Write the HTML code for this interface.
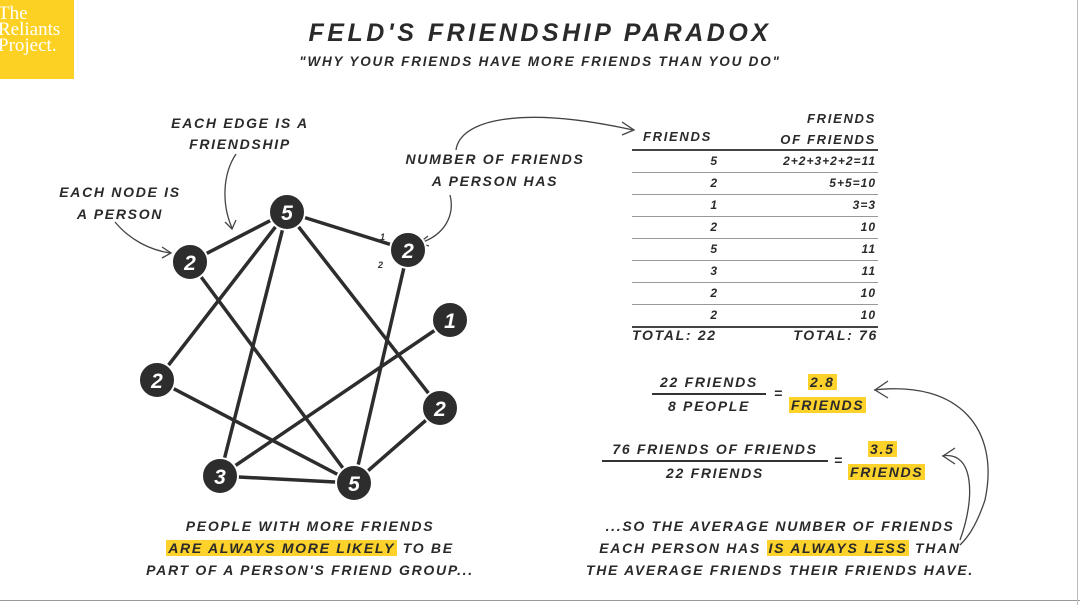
<!DOCTYPE html>
<html><head><meta charset="utf-8"><style>
*{margin:0;padding:0}
body{width:1080px;height:605px;background:#fff;position:relative;overflow:hidden;font-family:"Liberation Sans",sans-serif;color:#2a2a2a}
.t{position:absolute;font-weight:bold;font-style:italic;font-size:14px;letter-spacing:1.7px;white-space:nowrap;text-transform:uppercase}
.c{text-align:center}
.r{text-align:right}
.hl{background:#fdd22a;padding:0 2px}
.row{position:absolute;left:632px;width:246px;height:21px;border-bottom:1px solid #999}
.row span{position:absolute;top:3px;font-weight:bold;font-style:italic;font-size:12px;letter-spacing:1px}
</style></head><body>
<div style="position:absolute;left:0;top:0;width:74px;height:79px;background:#fdd123"></div>
<div style="position:absolute;left:-2px;top:6px;color:#fff;font-family:'Liberation Serif',serif;font-size:19px;line-height:16px">The<br>Reliants<br>Project.</div>
<div style="position:absolute;left:0;top:600px;width:1080px;height:1px;background:#999"></div>
<div style="position:absolute;left:1077px;top:0;width:1px;height:605px;background:#bbb"></div>

<div class="t c" style="left:270px;top:19px;width:540px;font-size:25px;letter-spacing:3.5px">Feld's Friendship Paradox</div>
<div class="t c" style="left:240px;top:54px;width:600px;font-size:13.5px;letter-spacing:1.8px">"Why your friends have more friends than you do"</div>

<div class="t c" style="left:140px;top:113px;width:200px;line-height:21px">Each edge is a<br>friendship</div>
<div class="t c" style="left:45px;top:181px;width:150px;line-height:22px">Each node is<br>a person</div>
<div class="t c" style="left:385px;top:148px;width:220px;line-height:22px">Number of friends<br>a person has</div>

<svg style="position:absolute;left:0;top:0" width="1080" height="605">
<g stroke="#2d2d2d" stroke-width="3.5" fill="none">
<line x1="190" y1="262" x2="287" y2="212"/>
<line x1="287" y1="212" x2="408" y2="250"/>
<line x1="287" y1="212" x2="157" y2="380"/>
<line x1="287" y1="212" x2="220" y2="476"/>
<line x1="287" y1="212" x2="440" y2="408"/>
<line x1="190" y1="262" x2="354" y2="483"/>
<line x1="408" y1="250" x2="354" y2="483"/>
<line x1="450" y1="320" x2="220" y2="476"/>
<line x1="157" y1="380" x2="354" y2="483"/>
<line x1="220" y1="476" x2="354" y2="483"/>
<line x1="440" y1="408" x2="354" y2="483"/>
</g>
<g stroke="#444" stroke-width="1.3" fill="none">
<path d="M236 154 C222 175 222 205 232 228"/><path d="M225 222 L232 229 L236 220"/>
<path d="M115 222 C130 240 150 250 170 253"/><path d="M162 247 L171 253 L162 258"/>
<path d="M450 195 C455 215 445 235 420 243"/><path d="M428 236 L419 243 L429 246"/>
<path d="M456 150 C460 120 520 105 633 130"/><path d="M622 122 L634 130 L622 135"/>
<path d="M874 390 C960 380 1000 430 985 500 C975 530 965 540 960 545"/><path d="M888 381 L875 390 L888 398"/>
<path d="M942 456 C975 450 975 500 960 540"/><path d="M955 448 L943 456 L955 464"/>
</g>
<g fill="#2d2d2d" stroke="#fff" stroke-width="2">
<circle cx="287" cy="212" r="18"/><circle cx="190" cy="262" r="18"/><circle cx="408" cy="250" r="18"/>
<circle cx="450" cy="320" r="18"/><circle cx="157" cy="380" r="18"/><circle cx="440" cy="408" r="18"/>
<circle cx="220" cy="476" r="18"/><circle cx="354" cy="483" r="18"/>
</g>
<g fill="#fff" font-family="Liberation Sans" font-weight="bold" font-style="italic" font-size="21" text-anchor="middle">
<text x="287" y="220">5</text><text x="190" y="270">2</text><text x="408" y="258">2</text>
<text x="450" y="328">1</text><text x="157" y="388">2</text><text x="440" y="416">2</text>
<text x="220" y="484">3</text><text x="354" y="491">5</text>
</g>
<g fill="#333" font-family="Liberation Sans" font-style="italic" font-size="9" font-weight="bold">
<text x="380" y="240">1</text><text x="378" y="268">2</text>
</g>
</svg>

<div class="t" style="left:643px;top:129px;font-size:13px">Friends</div>
<div class="t r" style="left:750px;top:108px;width:126px;font-size:13px;line-height:21px">Friends<br>of friends</div>
<div style="position:absolute;left:632px;top:149px;width:246px;height:2px;background:#444"></div>
<div class="row" style="top:151px"><span style="right:160px">5</span><span style="right:2px">2+2+3+2+2=11</span></div>
<div class="row" style="top:173px"><span style="right:160px">2</span><span style="right:2px">5+5=10</span></div>
<div class="row" style="top:195px"><span style="right:160px">1</span><span style="right:2px">3=3</span></div>
<div class="row" style="top:217px"><span style="right:160px">2</span><span style="right:2px">10</span></div>
<div class="row" style="top:239px"><span style="right:160px">5</span><span style="right:2px">11</span></div>
<div class="row" style="top:261px"><span style="right:160px">3</span><span style="right:2px">11</span></div>
<div class="row" style="top:283px"><span style="right:160px">2</span><span style="right:2px">10</span></div>
<div class="row" style="top:305px;border-bottom:2px solid #444"><span style="right:160px">2</span><span style="right:2px">10</span></div>
<div class="t" style="left:632px;top:327px;font-size:14px">Total: 22</div>
<div class="t r" style="left:750px;top:327px;width:128px;font-size:14px">Total: 76</div>

<div class="t c" style="left:650px;top:374px;width:118px">22 Friends</div>
<div style="position:absolute;left:652px;top:393px;width:114px;height:1.5px;background:#333"></div>
<div class="t c" style="left:650px;top:398px;width:118px">8 People</div>
<div class="t" style="left:774px;top:385px">=</div>
<div class="t" style="left:808px;top:374px"><span class="hl">2.8</span></div>
<div class="t" style="left:789px;top:397px"><span class="hl">Friends</span></div>

<div class="t c" style="left:600px;top:441px;width:230px">76 Friends of Friends</div>
<div style="position:absolute;left:602px;top:460px;width:226px;height:1.5px;background:#333"></div>
<div class="t c" style="left:600px;top:465px;width:230px">22 Friends</div>
<div class="t" style="left:834px;top:452px">=</div>
<div class="t" style="left:868px;top:441px"><span class="hl">3.5</span></div>
<div class="t" style="left:848px;top:464px"><span class="hl">Friends</span></div>

<div class="t c" style="left:110px;top:515px;width:400px;line-height:22px">People with more friends<br><span class="hl">are always more likely</span> to be<br>part of a person's friend group...</div>
<div class="t c" style="left:550px;top:515px;width:460px;line-height:22px">...so the average number of friends<br>each person has <span class="hl">is always less</span> than<br>the average friends their friends have.</div>
</body></html>
